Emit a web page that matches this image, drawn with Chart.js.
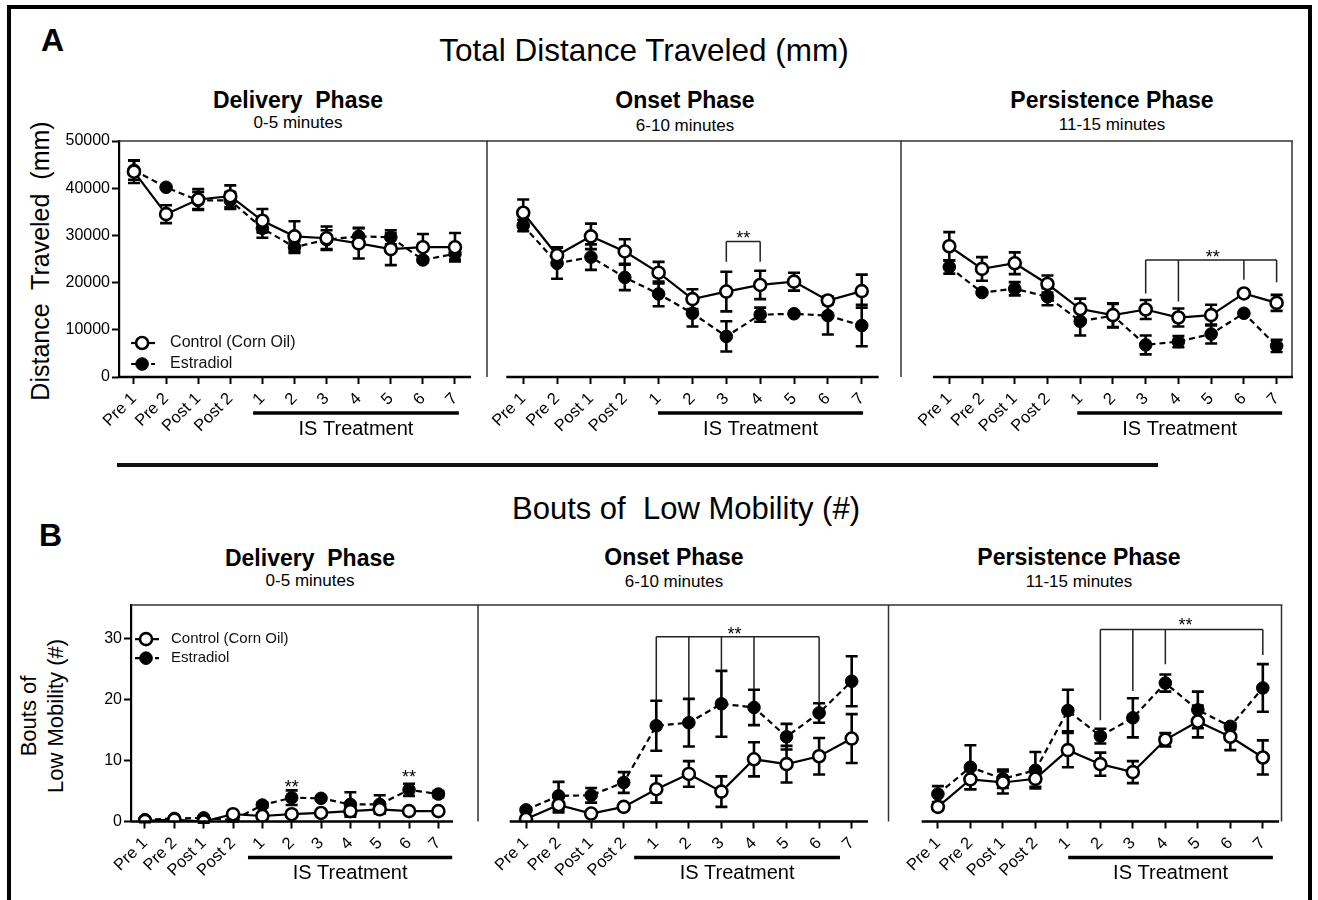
<!DOCTYPE html>
<html>
<head>
<meta charset="utf-8">
<script src="https://cdn.jsdelivr.net/npm/chart.js@4.4.1/dist/chart.umd.min.js"></script>
<style>
  body { margin: 0; background: #fff; }
  #fig { position: relative; width: 1318px; height: 900px; overflow: hidden; background: #fff;
         font-family: "Liberation Sans", Arial, sans-serif; color: #000; }
  .t { position: absolute; white-space: pre; line-height: 1; transform: translateX(-50%); }
  .b { font-weight: bold; }
  .rot { position: absolute; white-space: pre; text-align: center; transform: translate(-50%, -50%) rotate(-90deg); }
  #frame { position: absolute; left: 7px; top: 5px; width: 1305px; height: 905px; box-sizing: border-box; border: 4px solid #000; }
  #sep { position: absolute; left: 117px; top: 463px; width: 1041px; height: 4px; background: #111; }
</style>
</head>
<body>
<div id="fig">
  <div id="frame"></div>
  <div id="sep"></div>

  <div class="b" style="position:absolute;left:41px;top:24px;font-size:32px;line-height:1">A</div>
  <div class="t" style="left:644px;top:35px;font-size:31.5px">Total Distance Traveled (mm)</div>
  <div class="rot" style="left:40px;top:261px;font-size:25px;line-height:1">Distance  Traveled  (mm)</div>

  <div class="t b" style="left:298px;top:89px;font-size:23px">Delivery  Phase</div>
  <div class="t" style="left:298px;top:114px;font-size:17px">0-5 minutes</div>
  <div class="t b" style="left:685px;top:89px;font-size:23px">Onset Phase</div>
  <div class="t" style="left:685px;top:117px;font-size:17px">6-10 minutes</div>
  <div class="t b" style="left:1112px;top:89px;font-size:23px">Persistence Phase</div>
  <div class="t" style="left:1112px;top:116px;font-size:17px">11-15 minutes</div>

  <div class="b" style="position:absolute;left:39px;top:519px;font-size:32px;line-height:1">B</div>
  <div class="t" style="left:686px;top:493px;font-size:31px">Bouts of  Low Mobility (#)</div>
  <div class="rot" style="left:42px;top:716px;font-size:22px;line-height:27px">Bouts of
Low Mobility (#)</div>

  <div class="t b" style="left:310px;top:547px;font-size:23px">Delivery  Phase</div>
  <div class="t" style="left:310px;top:572px;font-size:17px">0-5 minutes</div>
  <div class="t b" style="left:674px;top:546px;font-size:23px">Onset Phase</div>
  <div class="t" style="left:674px;top:573px;font-size:17px">6-10 minutes</div>
  <div class="t b" style="left:1079px;top:546px;font-size:23px">Persistence Phase</div>
  <div class="t" style="left:1079px;top:573px;font-size:17px">11-15 minutes</div>
</div>

<script>
// categories (x axis)
const xLabels = ['Pre 1', 'Pre 2', 'Post 1', 'Post 2', '1', '2', '3', '4', '5', '6', '7'];
const seriesNames = ['Control (Corn Oil)', 'Estradiol'];

// A - total distance traveled (mm)
const aTicks = [0, 10000, 20000, 30000, 40000, 50000];
const aDelivCtrl    = [43500, 34500, 37600, 38300, 33100, 29800, 29400, 28300, 27100, 27500, 27500];
const aDelivCtrlErr = [2400, 1900, 2200, 2300, 2500, 3200, 2500, 3200, 3400, 2800, 3000];
const aDelivE2      = [43800, 40200, 37400, 37400, 31500, 27500, 29100, 29800, 29600, 24800, 26100];
const aDelivE2Err   = [2000, 0, 1800, 1800, 2000, 1200, 2000, 1800, 1500, 500, 1200];

const aOnsetCtrl    = [34800, 25800, 29800, 26600, 22100, 16500, 18100, 19500, 20200, 16200, 18200];
const aOnsetCtrlErr = [2800, 1700, 2700, 2600, 2300, 2100, 4200, 3000, 1900, 800, 3500];
const aOnsetE2      = [32100, 24100, 25400, 21100, 17600, 13500, 8600, 13200, 13400, 13000, 10900];
const aOnsetE2Err   = [1200, 3300, 2700, 2700, 2600, 2800, 3200, 1500, 0, 4000, 4400];

const aPersCtrl     = [27700, 22900, 24100, 19700, 14400, 13100, 14300, 12600, 13100, 17700, 15700];
const aPersCtrlErr  = [3000, 2500, 2300, 1800, 2200, 2500, 2000, 1900, 2200, 600, 1700];
const aPersE2       = [23300, 17900, 18700, 17000, 11800, 13000, 6800, 7500, 9100, 13500, 6600];
const aPersE2Err    = [1400, 0, 1400, 1800, 3000, 2500, 2000, 1200, 2000, 0, 1300];

// B - bouts of low mobility (#)
const bTicks = [0, 10, 20, 30];
const bDelivCtrl    = [0.1, 0.3, 0.0, 1.2, 0.9, 1.2, 1.4, 1.7, 2.0, 1.7, 1.7];
const bDelivCtrlErr = [0.2, 0.2, 0.2, 0.3, 0.3, 0.4, 0.4, 0.6, 0.6, 0.3, 0.3];
const bDelivE2      = [0.3, 0.5, 0.6, 0.2, 2.7, 3.9, 3.8, 2.8, 2.8, 5.2, 4.5];
const bDelivE2Err   = [0.2, 0.2, 0.3, 0.2, 0.4, 1.2, 0.3, 2.0, 1.5, 1.0, 0.5];

const bOnsetCtrl    = [0.4, 2.7, 1.3, 2.4, 5.3, 7.8, 4.9, 10.2, 9.4, 10.7, 13.6];
const bOnsetCtrlErr = [0.3, 1.2, 0.3, 0.3, 2.2, 2.1, 2.5, 2.8, 3.0, 3.0, 4.0];
const bOnsetE2      = [1.9, 4.2, 4.3, 6.4, 15.7, 16.2, 19.3, 18.7, 13.9, 17.8, 23.0];
const bOnsetE2Err   = [0.3, 2.3, 1.2, 1.7, 4.1, 3.9, 5.4, 2.9, 2.1, 1.6, 4.1];

const bPersCtrl     = [2.4, 6.9, 6.4, 7.0, 11.7, 9.4, 8.1, 13.4, 16.4, 13.9, 10.5];
const bPersCtrlErr  = [0.5, 1.6, 1.8, 1.3, 2.8, 1.9, 1.8, 1.1, 2.6, 2.2, 2.8];
const bPersE2       = [4.5, 8.9, 7.0, 8.4, 18.2, 14.0, 17.0, 22.7, 18.3, 15.6, 21.9];
const bPersE2Err    = [1.3, 3.6, 1.5, 3.0, 3.4, 1.2, 3.2, 1.4, 3.0, 0.5, 3.9];

// significance brackets: columns (category index), bracket top, lower ends, star position
const aOnsetSigCols = [6, 7];
const aOnsetSigTop  = 28700;
const aOnsetSigEnds = [24400, 24400];
const aOnsetStar    = [6.5, 30400];

const aPersSigCols  = [6, 7, 9, 10];
const aPersSigTop   = 24800;
const aPersSigEnds  = [17700, 16000, 20600, 20100];
const aPersStar     = [8.05, 26300];

const bDelivStars   = [[5, 6.3], [9, 8.0]];

const bOnsetSigCols = [4, 5, 6, 7, 9];
const bOnsetSigTop  = 30.3;
const bOnsetSigEnds = [19.9, 20.2, 24.9, 21.7, 19.4];
const bOnsetStar    = [6.4, 31.4];

const bPersSigCols  = [5, 6, 7, 10];
const bPersSigTop   = 31.5;
const bPersSigEnds  = [16.6, 21.4, 25.8, 27.3];
const bPersStar     = [7.62, 32.9];

Chart.defaults.font.family = "'Liberation Sans', Arial, sans-serif";
Chart.defaults.color = '#000';

const decor = {
  id: 'decor',
  beforeDatasetsDraw(chart, args, o) {
    const { ctx } = chart, xs = chart.scales.x, ys = chart.scales.y;
    ctx.save();
    ctx.strokeStyle = '#000';
    ctx.lineWidth = 2.6;
    chart.data.datasets.forEach(ds => {
      ds.errors.forEach((e, i) => {
        if (!e) return;
        const x = xs.getPixelForValue(i);
        const top = ys.getPixelForValue(ds.data[i].y + e);
        const bot = ys.getPixelForValue(ds.data[i].y - e);
        ctx.beginPath();
        ctx.moveTo(x, top); ctx.lineTo(x, bot);
        ctx.moveTo(x - 6, top); ctx.lineTo(x + 6, top);
        ctx.moveTo(x - 6, bot); ctx.lineTo(x + 6, bot);
        ctx.stroke();
      });
    });
    ctx.restore();
  },
  afterDatasetsDraw(chart, args, o) {
    const { ctx, chartArea: a } = chart, xs = chart.scales.x, ys = chart.scales.y;
    ctx.save();
    // frame: top and right edges
    ctx.strokeStyle = '#333';
    ctx.lineWidth = 1.5;
    ctx.beginPath();
    ctx.moveTo(a.left, a.top); ctx.lineTo(a.right + 1, a.top);
    ctx.moveTo(a.right, a.top); ctx.lineTo(a.right, a.bottom);
    ctx.stroke();
    // x axis line
    ctx.strokeStyle = '#000';
    ctx.lineWidth = 2.5;
    ctx.beginPath();
    ctx.moveTo(xs.getPixelForValue(-0.5), a.bottom);
    ctx.lineTo(xs.getPixelForValue(xLabels.length - 0.5), a.bottom);
    ctx.stroke();
    // IS treatment bar + label
    const x1 = xs.getPixelForValue(o.isBar[0]), x2 = xs.getPixelForValue(o.isBar[1]);
    ctx.lineWidth = 3.5;
    ctx.beginPath();
    ctx.moveTo(x1, a.bottom + 36); ctx.lineTo(x2, a.bottom + 36);
    ctx.stroke();
    ctx.fillStyle = '#000';
    ctx.font = "20px 'Liberation Sans', Arial, sans-serif";
    ctx.textAlign = 'center';
    ctx.textBaseline = 'middle';
    ctx.fillText('IS Treatment', (x1 + x2) / 2, a.bottom + 52);
    // significance brackets
    ctx.strokeStyle = '#222';
    ctx.lineWidth = 1.5;
    if (o.sig) {
      const yt = ys.getPixelForValue(o.sig.top);
      ctx.beginPath();
      ctx.moveTo(xs.getPixelForValue(o.sig.cols[0]), yt);
      ctx.lineTo(xs.getPixelForValue(o.sig.cols[o.sig.cols.length - 1]), yt);
      o.sig.cols.forEach((c, k) => {
        ctx.moveTo(xs.getPixelForValue(c), yt);
        ctx.lineTo(xs.getPixelForValue(c), ys.getPixelForValue(o.sig.ends[k]));
      });
      ctx.stroke();
    }
    ctx.font = "18px 'Liberation Sans', Arial, sans-serif";
    ctx.textBaseline = 'alphabetic';
    (o.stars || []).forEach(s => {
      ctx.fillText('**', xs.getPixelForValue(s[0]), ys.getPixelForValue(s[1]) + 10);
    });
    // legend
    if (o.legend) {
      const L = o.legend;
      const lx = xs.getPixelForValue(L.x), ly = ys.getPixelForValue(L.y);
      chart.data.datasets.forEach((ds, k) => {
        const y = ly + k * L.gap;
        ctx.strokeStyle = '#000';
        ctx.lineWidth = ds.borderWidth;
        ctx.setLineDash(ds.borderDash || []);
        ctx.beginPath();
        ctx.moveTo(lx, y); ctx.lineTo(lx + 24, y);
        ctx.stroke();
        ctx.setLineDash([]);
        ctx.beginPath();
        ctx.arc(lx + 11, y, ds.pointRadius, 0, Math.PI * 2);
        ctx.fillStyle = ds.pointBackgroundColor;
        ctx.fill();
        ctx.lineWidth = ds.pointBorderWidth;
        ctx.stroke();
        ctx.fillStyle = '#111';
        ctx.font = L.size + "px 'Liberation Sans', Arial, sans-serif";
        ctx.textAlign = 'left';
        ctx.textBaseline = 'middle';
        ctx.fillText(seriesNames[k], lx + L.dx, y);
      });
    }
    ctx.restore();
  }
};

function toPoints(vals) {
  return vals.map((v, i) => ({ x: i, y: v }));
}

function buildPanel(p) {
  const [L, T, R, B] = p.area;
  const padL = p.yTicks ? 90 : 50, padR = 25, padT = 12, padB = 85;
  const yW = p.yTicks ? 64 : 0, xH = 70;
  const W = Math.round(R - L + padL + padR), H = Math.round(B - T + padT + padB);
  const canvas = document.createElement('canvas');
  canvas.width = W; canvas.height = H;
  canvas.style.cssText = `position:absolute;left:${L - padL}px;top:${T - padT}px;width:${W}px;height:${H}px`;
  document.getElementById('fig').appendChild(canvas);

  new Chart(canvas, {
    type: 'line',
    data: {
      datasets: [
        {
          label: seriesNames[0], data: toPoints(p.ctrl), errors: p.ctrlErr,
          borderColor: '#000', borderWidth: 2.2,
          pointRadius: 6, pointBorderWidth: 2.6, pointBackgroundColor: '#fff', pointBorderColor: '#000'
        },
        {
          label: seriesNames[1], data: toPoints(p.e2), errors: p.e2Err,
          borderColor: '#000', borderWidth: 2.2, borderDash: [6, 4],
          pointRadius: 6.3, pointBorderWidth: 1, pointBackgroundColor: '#000', pointBorderColor: '#000'
        }
      ]
    },
    options: {
      responsive: false,
      animation: false,
      devicePixelRatio: 1,
      events: [],
      layout: { padding: { left: padL - yW, top: padT, right: W - padL - (R - L), bottom: H - padT - (B - T) - xH } },
      plugins: {
        legend: { display: false },
        tooltip: { enabled: false },
        decor: { isBar: p.isBar, sig: p.sig, stars: p.stars, legend: p.legend }
      },
      scales: {
        x: {
          type: 'linear', min: p.xMin, max: p.xMax,
          afterBuildTicks: s => { s.ticks = xLabels.map((_, i) => ({ value: i })); },
          afterFit: s => { s.height = xH; },
          border: { display: false },
          grid: { drawOnChartArea: false, tickLength: 7, tickWidth: 2, tickColor: '#000' },
          ticks: { autoSkip: false, minRotation: 45, maxRotation: 45, padding: 5,
                   font: { size: 16.5 }, color: '#000', callback: v => xLabels[v] }
        },
        y: {
          display: !!p.yTicks, min: 0, max: p.yMax,
          afterBuildTicks: s => { s.ticks = (p.yTicks || []).map(v => ({ value: v })); },
          afterFit: s => { s.width = yW; },
          border: { display: true, width: 2.2, color: '#000' },
          grid: { drawOnChartArea: false, tickLength: 7, tickWidth: 2, tickColor: '#000' },
          ticks: { padding: 2, font: { size: 16 }, color: '#000', callback: v => String(v) }
        }
      }
    },
    plugins: [decor]
  });
}

const panels = [
  { area: [119, 141, 487, 377], xMin: -0.467, xMax: 10.997, yMax: 50000, yTicks: aTicks,
    ctrl: aDelivCtrl, ctrlErr: aDelivCtrlErr, e2: aDelivE2, e2Err: aDelivE2Err, isBar: [3.71, 10.12],
    legend: { x: -0.09, y: 7200, gap: 21, dx: 39, size: 16 } },
  { area: [487, 141, 901, 377], xMin: -1.07, xMax: 11.16, yMax: 50000,
    ctrl: aOnsetCtrl, ctrlErr: aOnsetCtrlErr, e2: aOnsetE2, e2Err: aOnsetE2Err, isBar: [3.98, 10.04],
    sig: { cols: aOnsetSigCols, top: aOnsetSigTop, ends: aOnsetSigEnds }, stars: [aOnsetStar] },
  { area: [901, 141, 1292, 377], xMin: -1.475, xMax: 10.47, yMax: 50000,
    ctrl: aPersCtrl, ctrlErr: aPersCtrlErr, e2: aPersE2, e2Err: aPersE2Err, isBar: [3.91, 10.17],
    sig: { cols: aPersSigCols, top: aPersSigTop, ends: aPersSigEnds }, stars: [aPersStar] },
  { area: [131, 605, 478, 821.5], xMin: -0.477, xMax: 11.35, yMax: 35.5, yTicks: bTicks,
    ctrl: bDelivCtrl, ctrlErr: bDelivCtrlErr, e2: bDelivE2, e2Err: bDelivE2Err, isBar: [3.51, 10.47],
    stars: bDelivStars, legend: { x: -0.34, y: 29.9, gap: 19, dx: 36, size: 15 } },
  { area: [478, 605, 888.5, 821.5], xMin: -1.474, xMax: 11.13, yMax: 35.5,
    ctrl: bOnsetCtrl, ctrlErr: bOnsetCtrlErr, e2: bOnsetE2, e2Err: bOnsetE2Err, isBar: [3.32, 9.64],
    sig: { cols: bOnsetSigCols, top: bOnsetSigTop, ends: bOnsetSigEnds }, stars: [bOnsetStar] },
  { area: [888.5, 605, 1281, 821.5], xMin: -1.505, xMax: 10.575, yMax: 35.5,
    ctrl: bPersCtrl, ctrlErr: bPersCtrlErr, e2: bPersE2, e2Err: bPersE2Err, isBar: [4.01, 10.31],
    sig: { cols: bPersSigCols, top: bPersSigTop, ends: bPersSigEnds }, stars: [bPersStar] }
];

panels.forEach(buildPanel);
</script>
</body>
</html>
